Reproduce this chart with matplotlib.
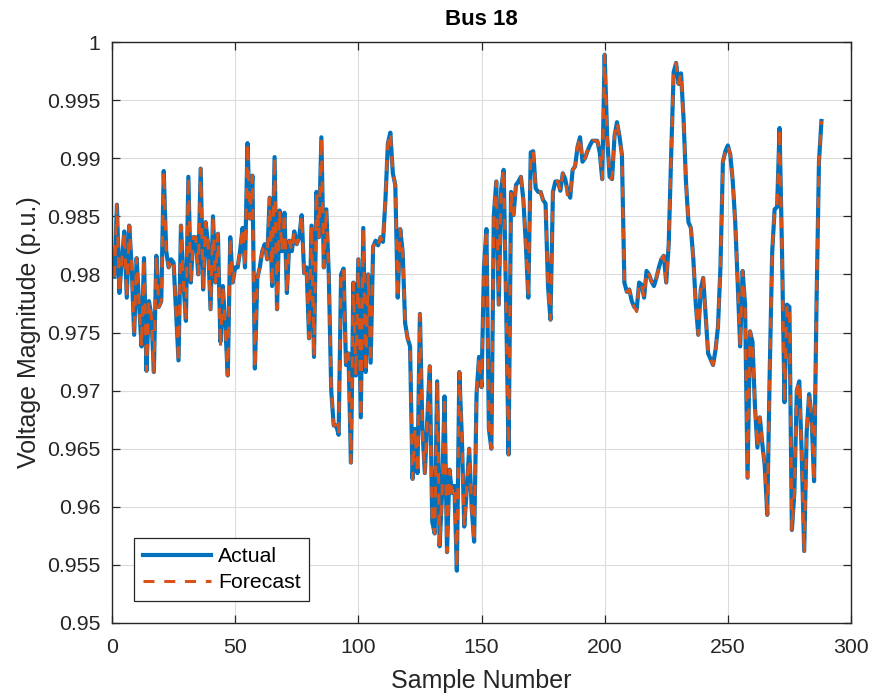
import numpy as np
import matplotlib
matplotlib.use("Agg")
import matplotlib.pyplot as plt

plt.rcParams['font.family'] = ['Liberation Sans', 'DejaVu Sans']

# sample numbers 1..288, voltage magnitude
sample = np.arange(1, 289)
actual = [
    0.9798, 0.9860, 0.9784, 0.9813, 0.9837, 0.9780, 0.9842, 0.9806, 0.9748, 0.9814, 0.9774, 0.9738,
    0.9814, 0.9717, 0.9777, 0.9764, 0.9716, 0.9816, 0.9772, 0.9777, 0.9889, 0.9820, 0.9806, 0.9813,
    0.9810, 0.9768, 0.9726, 0.9842, 0.9793, 0.9760, 0.9884, 0.9793, 0.9832, 0.9832, 0.9800, 0.9891,
    0.9787, 0.9845, 0.9826, 0.9770, 0.9850, 0.9793, 0.9835, 0.9742, 0.9790, 0.9755, 0.9713, 0.9832,
    0.9793, 0.9806, 0.9806, 0.9820, 0.9840, 0.9806, 0.9913, 0.9848, 0.9885, 0.9719, 0.9797, 0.9806,
    0.9820, 0.9826, 0.9813, 0.9866, 0.9790, 0.9901, 0.9770, 0.9855, 0.9820, 0.9853, 0.9784, 0.9829,
    0.9820, 0.9837, 0.9826, 0.9832, 0.9851, 0.9801, 0.9806, 0.9745, 0.9842, 0.9729, 0.9871, 0.9832,
    0.9918, 0.9806, 0.9856, 0.9800, 0.9700, 0.9670, 0.9670, 0.9662, 0.9800, 0.9805, 0.9722, 0.9732,
    0.9638, 0.9793, 0.9713, 0.9813, 0.9677, 0.9840, 0.9716, 0.9800, 0.9724, 0.9824, 0.9829, 0.9825,
    0.9832, 0.9828, 0.9864, 0.9913, 0.9922, 0.9887, 0.9877, 0.9780, 0.9839, 0.9819, 0.9758, 0.9745,
    0.9738, 0.9624, 0.9667, 0.9629, 0.9766, 0.9667, 0.9629, 0.9674, 0.9721, 0.9587, 0.9577, 0.9708,
    0.9566, 0.9612, 0.9695, 0.9561, 0.9632, 0.9612, 0.9618, 0.9545, 0.9716, 0.9661, 0.9583, 0.9615,
    0.9650, 0.9600, 0.9570, 0.9697, 0.9729, 0.9703, 0.9806, 0.9839, 0.9667, 0.9650, 0.9851, 0.9880,
    0.9774, 0.9874, 0.9890, 0.9774, 0.9645, 0.9871, 0.9851, 0.9877, 0.9880, 0.9884, 0.9864, 0.9826,
    0.9780, 0.9905, 0.9906, 0.9874, 0.9871, 0.9871, 0.9864, 0.9861, 0.9790, 0.9761, 0.9871, 0.9880,
    0.9880, 0.9872, 0.9887, 0.9882, 0.9871, 0.9866, 0.9890, 0.9893, 0.9910, 0.9918, 0.9897, 0.9900,
    0.9906, 0.9911, 0.9915, 0.9915, 0.9915, 0.9905, 0.9882, 0.9989, 0.9919, 0.9884, 0.9882, 0.9919,
    0.9931, 0.9919, 0.9903, 0.9793, 0.9785, 0.9787, 0.9777, 0.9772, 0.9770, 0.9793, 0.9791, 0.9780,
    0.9803, 0.9800, 0.9794, 0.9790, 0.9797, 0.9806, 0.9813, 0.9816, 0.9793, 0.9826, 0.9903, 0.9974,
    0.9982, 0.9964, 0.9973, 0.9935, 0.9880, 0.9845, 0.9840, 0.9813, 0.9774, 0.9748, 0.9787, 0.9797,
    0.9764, 0.9732, 0.9727, 0.9722, 0.9735, 0.9755, 0.9806, 0.9897, 0.9906, 0.9911, 0.9903, 0.9880,
    0.9845, 0.9793, 0.9738, 0.9803, 0.9774, 0.9625, 0.9751, 0.9742, 0.9687, 0.9651, 0.9677, 0.9654,
    0.9635, 0.9593, 0.9716, 0.9819, 0.9856, 0.9858, 0.9926, 0.9819, 0.9690, 0.9774, 0.9772, 0.9580,
    0.9612, 0.9700, 0.9708, 0.9645, 0.9562, 0.9664, 0.9697, 0.9677, 0.9622, 0.9774, 0.9897, 0.9932,
]
# forecast follows the actual curve almost exactly; a few points differ slightly
forecast = list(actual)
forecast_diff = {27: 0.9724, 44: 0.9737, 140: 0.9547, 185: 0.9866, 213: 0.9768, 281: 0.9560}
for k, v in forecast_diff.items():
    forecast[k - 1] = v

blue = '#0072BD'
orange = '#D95319'
axcol = '#262626'

fig = plt.figure(figsize=(8.71, 6.95), dpi=100)
ax = fig.add_axes([112/871, 72/695, 739/871, 581/695])

ax.plot(sample, actual, color=blue, lw=3.0, label='Actual', solid_joinstyle='round')
ax.plot(sample, forecast, color=orange, lw=2.2, ls=(0, (3.6, 3.2)), label='Forecast')

ax.set_xlim(0, 300)
ax.set_ylim(0.95, 1.0)
ax.set_xticks(np.arange(0, 301, 50))
ax.set_yticks(np.arange(0.95, 1.0001, 0.005))
ax.set_yticklabels(['0.95', '0.955', '0.96', '0.965', '0.97', '0.975', '0.98',
                    '0.985', '0.99', '0.995', '1'])
ax.grid(True, color='#dcdcdc', lw=0.8)
ax.set_axisbelow(True)
ax.tick_params(direction='in', length=5.5, width=0.9, colors=axcol, labelsize=15.3,
               top=True, right=True)
ax.tick_params(axis='y', pad=8.5)
ax.tick_params(axis='x', pad=10.5)
for s in ax.spines.values():
    s.set_color(axcol)
    s.set_linewidth(1.0)

ax.set_xlabel('Sample Number', fontsize=18, color=axcol, labelpad=9)
ax.set_ylabel('Voltage Magnitude (p.u.)', fontsize=18, color=axcol, labelpad=4)
ax.set_title('Bus 18', fontsize=16, fontweight='bold', color='black', pad=12)

leg = ax.legend(loc='lower left', bbox_to_anchor=(0.0298, 0.038), borderaxespad=0,
                fontsize=15.3, fancybox=False, framealpha=1, edgecolor=axcol,
                handlelength=3.2, handletextpad=0.35, borderpad=0.4, labelspacing=0.35)
leg.get_frame().set_linewidth(0.9)

plt.savefig('out.png', dpi=100)
